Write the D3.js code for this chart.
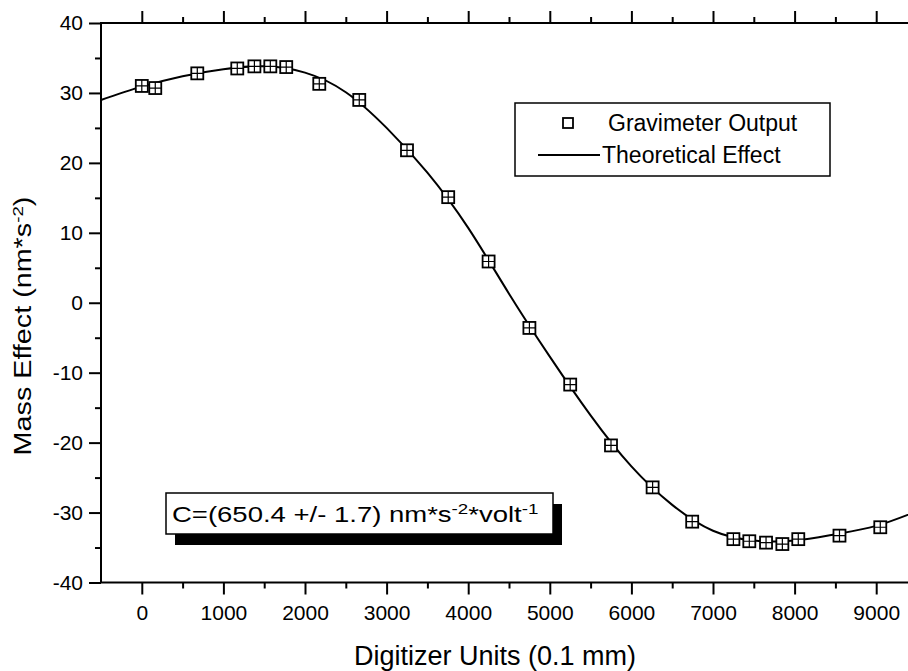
<!doctype html>
<html>
  <head>
    <meta charset="utf-8">
    <script src="https://cdnjs.cloudflare.com/ajax/libs/d3/7.8.5/d3.min.js" type="text/javascript"></script>
    <style>
      body { margin: 0; background: #fff; }
      text {
        font-family: "Liberation Sans", Arial, Helvetica, sans-serif;
        fill: #000;
      }
      .axis line {
        stroke: #000;
        stroke-width: 2px;
      }
    </style>
  </head>
  <body>
    <svg id="chart" width="908" height="671"></svg>

    <script>
      // gravimeter readings (digitizer units, nm*s^-2)
      var pointX = [0, 165, 680, 1170, 1380, 1575, 1770, 2175, 2665, 3250, 3755, 4250,
                    4750, 5250, 5750, 6260, 6745, 7250, 7445, 7650, 7850, 8045, 8550, 9050];
      var pointY = [31.0, 30.7, 32.8, 33.5, 33.8, 33.8, 33.7, 31.3, 29.0, 21.8, 15.1, 5.9,
                    -3.6, -11.7, -20.4, -26.4, -31.3, -33.8, -34.1, -34.3, -34.5, -33.8, -33.3, -32.1];

      // theoretical curve
      var curveX = [-500, 0, 500, 1000, 1500, 2000, 2500, 3000, 3500, 4000, 4500, 5000,
                    5500, 6000, 6500, 7000, 7500, 8000, 8500, 9000, 9500];
      var curveY = [29.0, 30.9, 32.4, 33.4, 33.8, 32.9, 30.1, 25.0, 18.6, 10.7, 1.3, -7.7,
                    -16.1, -23.4, -28.9, -32.6, -34.0, -34.0, -33.1, -31.9, -29.8];

      var xMajor = [0, 1000, 2000, 3000, 4000, 5000, 6000, 7000, 8000, 9000];
      var xMinor = [500, 1500, 2500, 3500, 4500, 5500, 6500, 7500, 8500];
      var yMajor = [-40, -30, -20, -10, 0, 10, 20, 30, 40];
      var yMinor = [-35, -25, -15, -5, 5, 15, 25, 35];

      var svg = d3.select("#chart");

      var x = d3.scaleLinear().domain([-500, 9500]).range([101, 917]);
      var y = d3.scaleLinear().domain([-40, 40]).range([582.5, 23]);

      // axes: majors (labelled on bottom/left), minors half as long
      function drawAxis(axisFn, scale, transform, major, minor, len, labels) {
        var g = svg.append("g").attr("class", "axis").attr("transform", transform);
        g.call(axisFn(scale).tickValues(major).tickSize(len).tickPadding(6)
          .tickFormat(labels ? (d => String(d)) : ""));
        g.append("g").call(axisFn(scale).tickValues(minor).tickSize(len / 2).tickFormat(""));
        g.selectAll(".domain").remove();
        g.selectAll(".tick text").attr("font-size", 21).attr("font-family", null);
        return g;
      }

      drawAxis(d3.axisBottom, x, `translate(0,${y(-40)})`, xMajor, xMinor, 12, true)
        .selectAll(".tick text").attr("dy", "0.95em");
      drawAxis(d3.axisLeft, y, `translate(${x(-500)},0)`, yMajor, yMinor, 12, true);
      drawAxis(d3.axisBottom, x, `translate(0,${y(40)})`, xMajor, xMinor, -12, false);
      drawAxis(d3.axisLeft, y, `translate(${x(9500)},0)`, yMajor, yMinor, -12, false);

      svg.append("rect")
        .attr("x", x(-500)).attr("y", y(40))
        .attr("width", x(9500) - x(-500)).attr("height", y(-40) - y(40))
        .attr("fill", "none").attr("stroke", "#000").attr("stroke-width", 2);

      // theoretical effect
      var line = d3.line()
        .x((d, i) => x(curveX[i]))
        .y(d => y(d))
        .curve(d3.curveNatural);

      svg.append("path")
        .datum(curveY)
        .attr("d", line)
        .attr("fill", "none")
        .attr("stroke", "#000")
        .attr("stroke-width", 2);

      // gravimeter points: open squares with small error bars inside
      var pts = svg.append("g").selectAll("g")
        .data(pointY)
        .enter()
        .append("g")
          .attr("transform", (d, i) => `translate(${x(pointX[i])},${y(d)})`);

      pts.append("rect")
        .attr("x", -6).attr("y", -6).attr("width", 12).attr("height", 12)
        .attr("fill", "#fff").attr("stroke", "#000").attr("stroke-width", 1.8);
      pts.append("path")
        .attr("d", "M-6,0H6M0,-6V6")
        .attr("stroke", "#000").attr("stroke-width", 1.2);

      // legend
      var leg = svg.append("g");
      leg.append("rect")
        .attr("x", 515).attr("y", 103).attr("width", 315).attr("height", 73)
        .attr("fill", "#fff").attr("stroke", "#000").attr("stroke-width", 1.5);
      leg.append("rect")
        .attr("x", 563).attr("y", 118).attr("width", 10).attr("height", 10)
        .attr("fill", "none").attr("stroke", "#000").attr("stroke-width", 1.8);
      leg.append("line")
        .attr("x1", 538).attr("x2", 600).attr("y1", 155).attr("y2", 155)
        .attr("stroke", "#000").attr("stroke-width", 2);
      leg.append("text").attr("x", 608).attr("y", 131).attr("font-size", 23).text("Gravimeter Output");
      leg.append("text").attr("x", 602).attr("y", 163).attr("font-size", 23).text("Theoretical Effect");

      // calibration constant box with drop shadow
      var note = svg.append("g");
      note.append("rect")
        .attr("x", 175).attr("y", 504).attr("width", 387).attr("height", 41)
        .attr("fill", "#000");
      note.append("rect")
        .attr("x", 166).attr("y", 493).attr("width", 387).attr("height", 41)
        .attr("fill", "#fff").attr("stroke", "#000").attr("stroke-width", 1.5);
      var nt = note.append("text")
        .attr("transform", "translate(172,522) scale(1.25,1)")
        .attr("font-size", 22);
      nt.append("tspan").text("C=(650.4 +/- 1.7) nm*s");
      nt.append("tspan").attr("dy", -8).attr("font-size", 15).text("-2");
      nt.append("tspan").attr("dy", 8).text("*volt");
      nt.append("tspan").attr("dy", -8).attr("font-size", 15).text("-1");

      // axis titles
      svg.append("text")
        .attr("x", 495).attr("y", 665)
        .attr("text-anchor", "middle")
        .attr("font-size", 27)
        .text("Digitizer Units (0.1 mm)");

      var yt = svg.append("text")
        .attr("transform", "translate(31,326) rotate(-90) scale(1.25,1)")
        .attr("text-anchor", "middle")
        .attr("font-size", 23);
      yt.append("tspan").text("Mass Effect (nm*s");
      yt.append("tspan").attr("dy", -8).attr("font-size", 15).text("-2");
      yt.append("tspan").attr("dy", 8).text(")");
    </script>
  </body>
</html>
